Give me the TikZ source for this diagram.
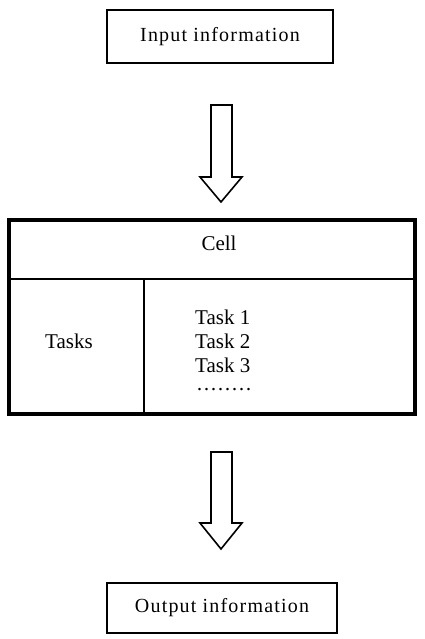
\documentclass[tikz,border=0pt]{standalone}
\usepackage{fontspec}
\setmainfont{Liberation Serif}
\begin{document}
\begin{tikzpicture}[x=1pt,y=-1pt,
  lbl/.style={font=\fontsize{21}{25}\selectfont, inner sep=0pt},
  widelbl/.style={font=\fontsize{20}{24}\selectfont\addfontfeature{LetterSpace=6}, inner sep=0pt},
  fatarrow/.style={draw=black, line width=1.6pt, fill=white, line join=miter}]
\useasboundingbox (0,0) rectangle (425,639);
% input box
\node[draw, line width=1.6pt, minimum width=226pt, minimum height=53pt, widelbl] (in) at (220,36.5) {Input information};
% arrow 1
\draw[fatarrow] (211,105) -- (232,105) -- (232,177) -- (242,177) -- (221,202) -- (200,177) -- (211,177) -- cycle;
% table
\coordinate (tl) at (9,220);
\coordinate (br) at (415,414);
\draw[line width=4pt] (tl) rectangle (br);
\coordinate (hl) at (9,279);
\coordinate (hr) at (415,279);
\draw[line width=2pt] (hl) -- (hr);
\coordinate (vt) at (144,279);
\coordinate (vb) at (144,414);
\draw[line width=2pt] (vt) -- (vb);
\node[lbl] (cell) at (219,243) {Cell};
\node[lbl] (tasks) at (69,341) {Tasks};
\node[lbl, anchor=west] (t1) at (195,317) {Task 1};
\node[lbl, anchor=west] (t2) at (195,341) {Task 2};
\node[lbl, anchor=west] (t3) at (195,365) {Task 3};
\node[lbl, anchor=west] (dots) at (196,392) {\textperiodcentered\textperiodcentered\textperiodcentered\textperiodcentered\textperiodcentered\textperiodcentered\textperiodcentered\textperiodcentered};
% arrow 2
\draw[fatarrow] (211,452) -- (232,452) -- (232,523) -- (242,523) -- (221,549) -- (200,523) -- (211,523) -- cycle;
% output box
\node[draw, line width=1.6pt, minimum width=230pt, minimum height=50pt, widelbl] (out) at (222,608) {Output information};
\end{tikzpicture}
\end{document}
